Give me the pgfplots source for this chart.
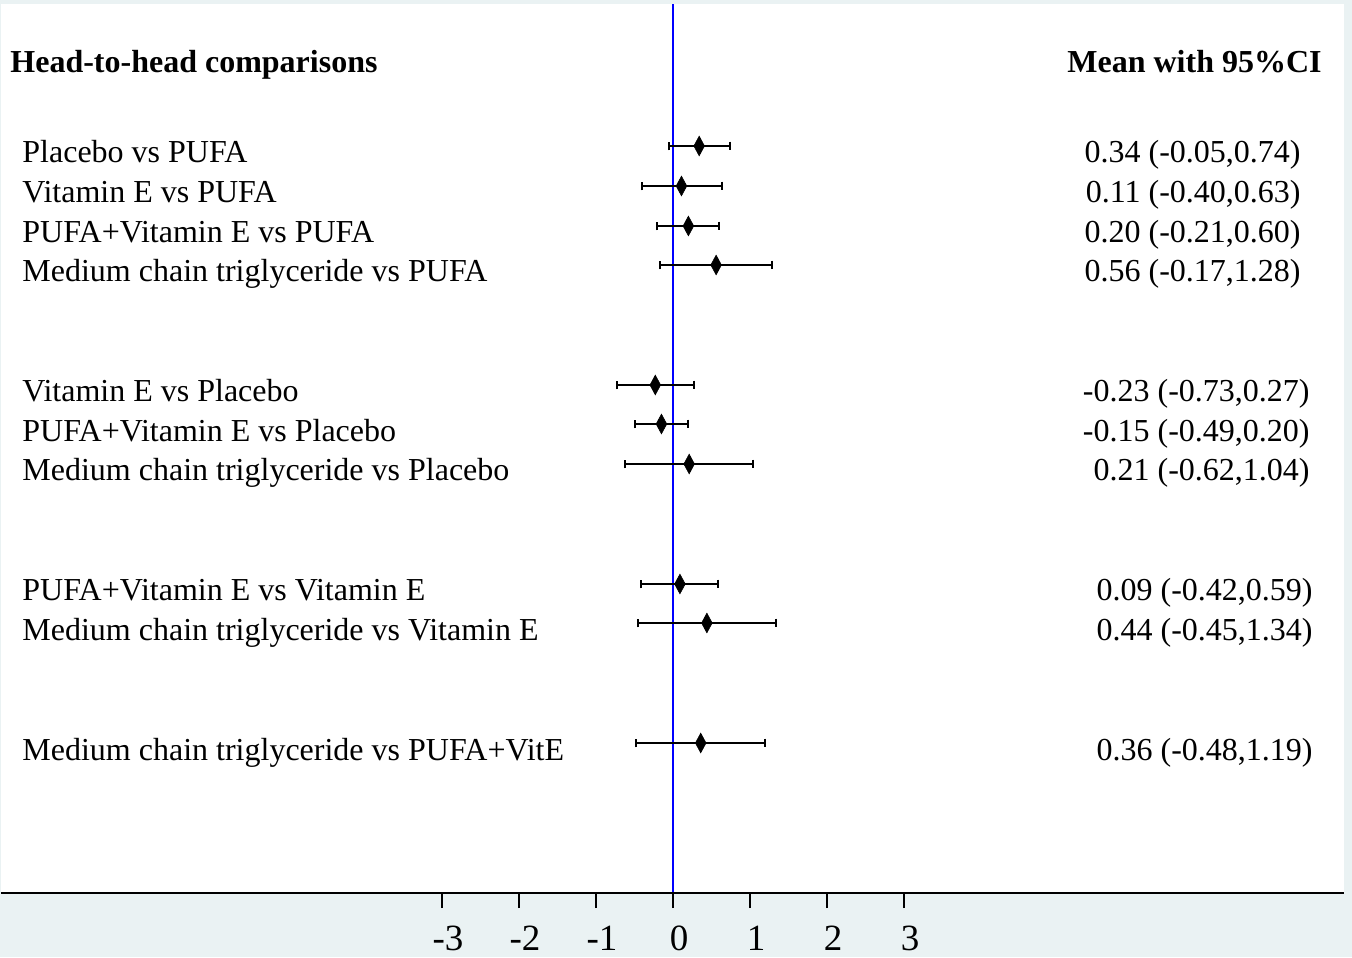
\documentclass[border=0pt]{standalone}
\usepackage{pgfplots}
\pgfplotsset{compat=1.18}
\usepackage{pgfplotstable}
\usepackage{fontspec}
\setmainfont{Liberation Serif}
\definecolor{stbg}{RGB}{234,242,243}

% y = vertical position of each row (px from bottom), m = mean, lo/hi = 95% CI
\pgfplotstableread{
y   m     lo     hi
811  0.34 -0.05  0.74
771  0.11 -0.40  0.63
731  0.20 -0.21  0.60
692  0.56 -0.17  1.28
572 -0.23 -0.73  0.27
533 -0.15 -0.49  0.20
493  0.21 -0.62  1.04
373  0.09 -0.42  0.59
334  0.44 -0.45  1.34
214  0.36 -0.48  1.19
}\data

\newcommand{\lbl}{\fontsize{16}{19}\selectfont}

\begin{document}
\begin{tikzpicture}
\begin{axis}[
  scale only axis, width=671.5pt, height=444.5pt,
  xmin=-8.7273, xmax=8.7143, ymin=64, ymax=953,
  clip=false, axis on top=true,
  axis x line*=bottom, axis y line=none,
  x axis line style={line width=1pt, black},
  xtick={-3,-2,-1,0,1,2,3},
  xticklabels={{-3},{-2},{-1},{0},{1},{2},{3}},
  tick align=outside, major tick length=7.5pt,
  tick style={black, line width=0.6pt},
  xticklabel style={font=\fontsize{18.5}{22}\selectfont, anchor=base, inner sep=0pt, yshift=-21pt, xshift=3pt},
]
\fill[stbg] (axis cs:-8.7403,0) rectangle (axis cs:8.8182,957);
\fill[white] (axis cs:-8.7273,64) rectangle (axis cs:8.7143,953);
\coordinate (BL) at (axis cs:-8.7403,0);
\coordinate (TR) at (axis cs:8.8182,957);

\addplot[blue, line width=0.75pt] coordinates {(0,64) (0,953)};

\addplot[only marks, mark=diamond*, mark size=4.9pt,
  mark options={xscale=0.72, fill=black, draw=black, line width=0.3pt},
  error bars/.cd, x dir=both, x explicit,
  error bar style={line width=1pt, black},
  error mark=|,
  error mark options={line width=1pt, mark size=2.2pt, black}]
  table[x=m, y=y, x error minus expr=\thisrow{m}-\thisrow{lo}, x error plus expr=\thisrow{hi}-\thisrow{m}] {\data};

% headers
\node[anchor=base west, font=\lbl\bfseries, inner sep=0pt] at (axis cs:-8.6104,884) {Head-to-head comparisons};
\node[anchor=base east, font=\lbl\bfseries, inner sep=0pt] at (axis cs:8.4286,884) {Mean with 95\%CI};

% left labels
\begin{scope}[every node/.style={anchor=base west, font=\lbl, inner sep=0pt}]
\node at (axis cs:-8.4545,794) {Placebo vs PUFA};
\node at (axis cs:-8.4545,754) {Vitamin E vs PUFA};
\node at (axis cs:-8.4545,714) {PUFA+Vitamin E vs PUFA};
\node at (axis cs:-8.4545,675) {Medium chain triglyceride vs PUFA};
\node at (axis cs:-8.4545,555) {Vitamin E vs Placebo};
\node at (axis cs:-8.4545,515) {PUFA+Vitamin E vs Placebo};
\node at (axis cs:-8.4545,476) {Medium chain triglyceride vs Placebo};
\node at (axis cs:-8.4545,356) {PUFA+Vitamin E vs Vitamin E};
\node at (axis cs:-8.4545,316) {Medium chain triglyceride vs Vitamin E};
\node at (axis cs:-8.4545,197) {Medium chain triglyceride vs PUFA+VitE};
\end{scope}

% right labels
\begin{scope}[every node/.style={anchor=base east, font=\lbl, inner sep=0pt}]
\node at (axis cs:8.1558,794) {0.34 (-0.05,0.74)};
\node at (axis cs:8.1558,754) {0.11 (-0.40,0.63)};
\node at (axis cs:8.1558,714) {0.20 (-0.21,0.60)};
\node at (axis cs:8.1558,675) {0.56 (-0.17,1.28)};
\node at (axis cs:8.2727,555) {-0.23 (-0.73,0.27)};
\node at (axis cs:8.2727,515) {-0.15 (-0.49,0.20)};
\node at (axis cs:8.2727,476) {0.21 (-0.62,1.04)};
\node at (axis cs:8.3117,356) {0.09 (-0.42,0.59)};
\node at (axis cs:8.3117,316) {0.44 (-0.45,1.34)};
\node at (axis cs:8.3117,197) {0.36 (-0.48,1.19)};
\end{scope}
\end{axis}
\pgfresetboundingbox
\path[use as bounding box] (BL) rectangle (TR);
\end{tikzpicture}
\end{document}
